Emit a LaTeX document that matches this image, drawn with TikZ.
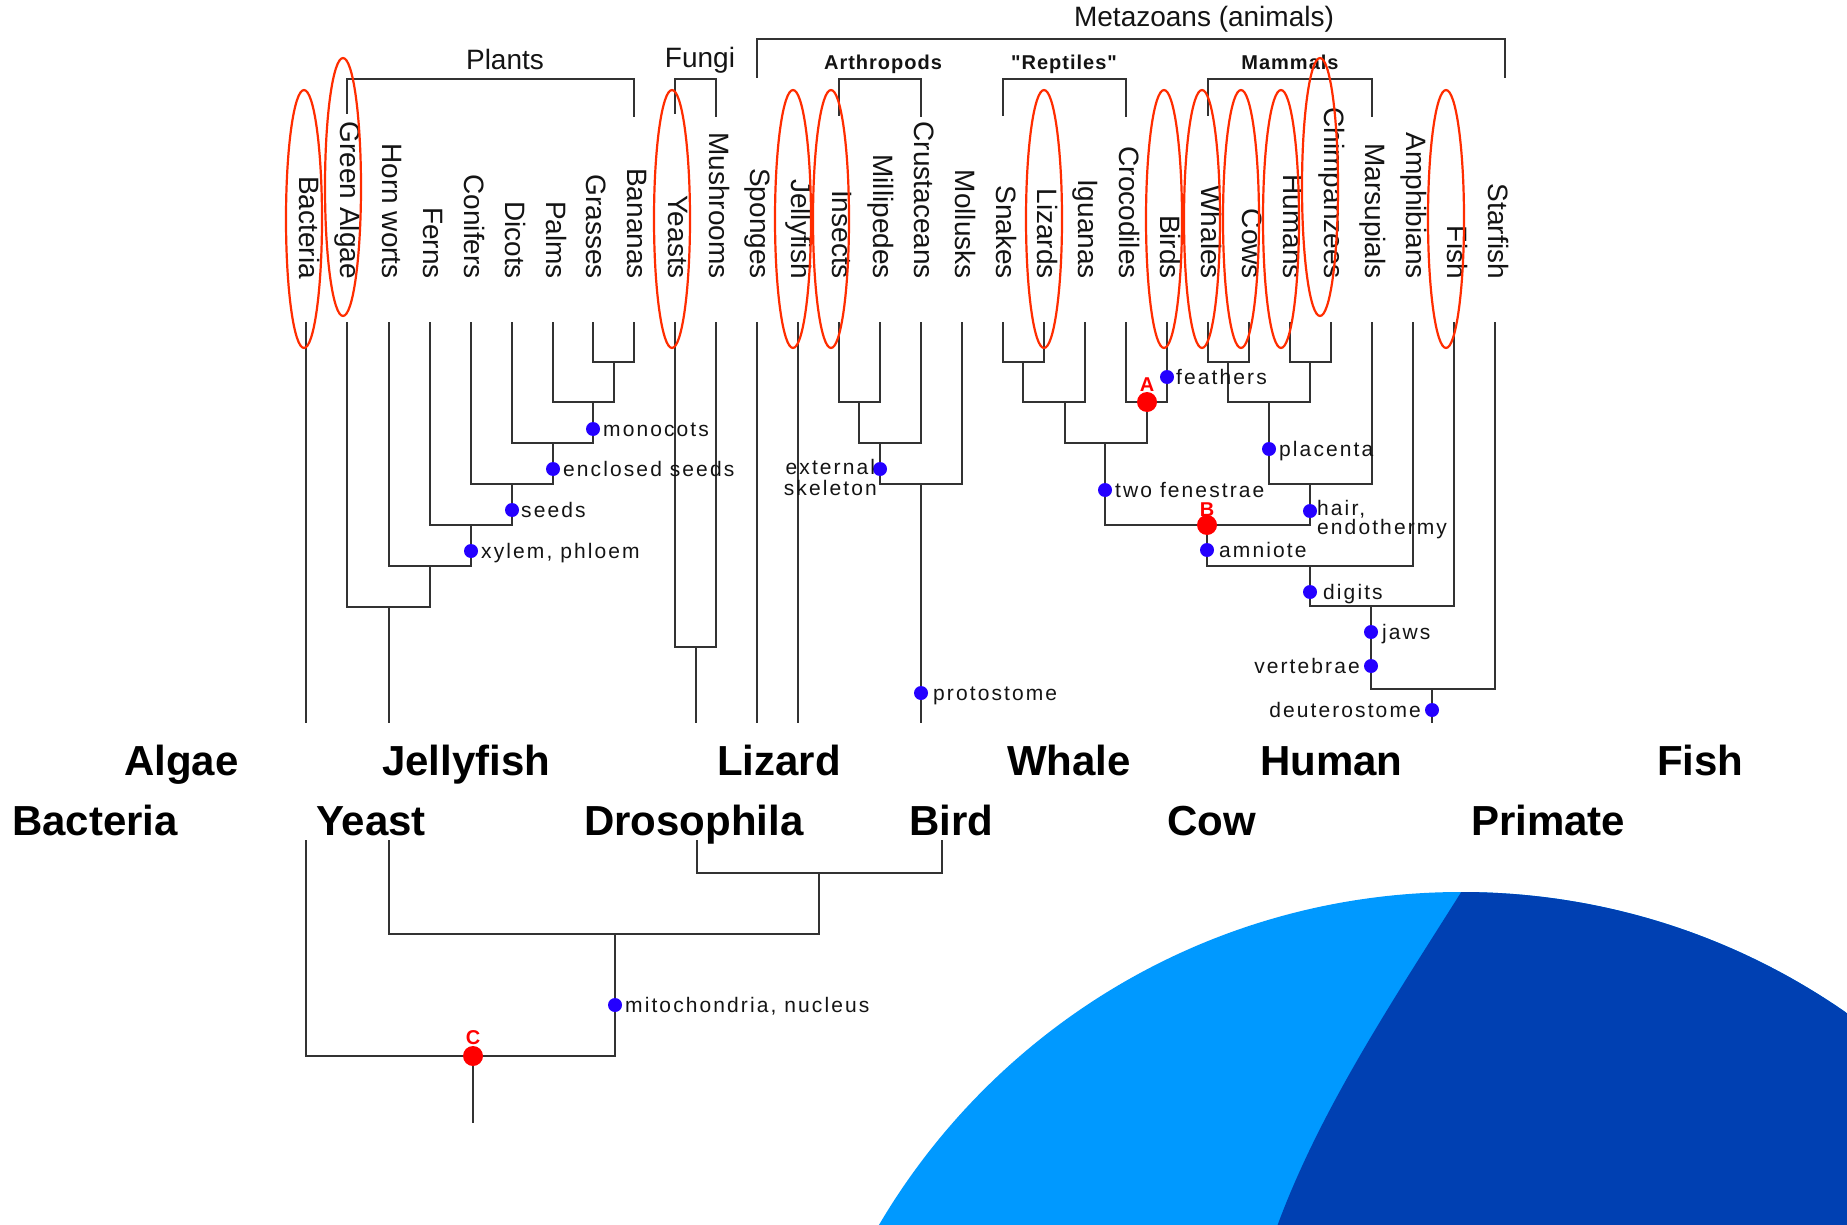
\documentclass[tikz,border=0pt]{standalone}
\usepackage{fontspec}
\setmainfont{Liberation Sans}
\newfontfamily\lblfont[LetterSpace=10]{Liberation Sans}
\newfontfamily\grpfont[LetterSpace=5]{Liberation Sans}
\usetikzlibrary{shapes.geometric}
\definecolor{linegray}{RGB}{50,50,50}
\definecolor{txtgray}{RGB}{20,20,20}
\definecolor{ringred}{RGB}{255,45,0}
\definecolor{dotblue}{RGB}{36,0,255}
\definecolor{dotred}{RGB}{255,0,0}
\definecolor{lightblue}{RGB}{0,153,255}
\definecolor{darkblue}{RGB}{0,64,178}
\begin{document}
\begin{tikzpicture}[x=1pt,y=-1pt,
  branch/.style={draw=linegray,line width=2.7pt},
  leaf/.style={rotate=-90,anchor=base east,inner sep=0pt,text=txtgray,font=\fontsize{28}{30}\selectfont},
  ring/.style={draw=ringred,line width=2.2pt,ellipse,minimum width=36pt,minimum height=258pt,inner sep=0pt},
  bdot/.style={circle,fill=dotblue,minimum size=14pt,inner sep=0pt},
  rdot/.style={circle,fill=dotred,minimum size=20pt,inner sep=0pt},
  lbl/.style={font=\lblfont\fontsize{21}{21}\selectfont,inner sep=0pt,text=txtgray},
  grp/.style={font=\fontsize{28}{30}\selectfont,inner sep=0pt,text=txtgray,anchor=base},
  subgrp/.style={font=\grpfont\bfseries\fontsize{20}{22}\selectfont,inner sep=0pt,text=txtgray,anchor=base},
  redlbl/.style={font=\bfseries\fontsize{20}{20}\selectfont,text=dotred,inner sep=0pt,anchor=base},
  big/.style={font=\fontsize{42}{44}\selectfont\bfseries,anchor=base west,inner sep=0pt,text=black}]
\useasboundingbox (0,0) rectangle (1847,1225);
\fill[white] (0,0) rectangle (1847,1225);

% blue shapes
\begin{scope}
  \clip (0,0) rectangle (1847,1225);
  \fill[lightblue] (1461,1567) circle[radius=675];
  \begin{scope}
    \clip (1461,1567) circle[radius=675];
    \fill[darkblue] (1470,878) .. controls (1400,990) and (1318,1110) .. (1274,1235) -- (1900,1235) -- (1900,878) -- cycle;
  \end{scope}
\end{scope}

% leaves
\foreach \nm/\xx/\txt in {Bac/306/Bacteria,GA/347/Green Algae,Hor/389/Horn worts,Fer/430/Ferns,Con/471/Conifers,Dic/512/Dicots,Pal/553/Palms,Gr/593/Grasses,Ban/634/Bananas,Yea/675/Yeasts,Mus/716/Mushrooms,Spo/757/Sponges,Jel/798/Jellyfish,Ins/839/Insects,Mil/880/Millipedes,Cru/921/Crustaceans,Mol/962/Mollusks,Sna/1003/Snakes,Liz/1044/Lizards,Igu/1085/Iguanas,Cro/1126/Crocodiles,Bir/1167/Birds,Wha/1208/Whales,Cow/1249/Cows,Hum/1290/Humans,Chi/1331/Chimpanzees,Mar/1372/Marsupials,Amp/1413/Amphibians,Fis/1454/Fish,Sta/1495/Starfish}{
  \node[leaf] (t\nm) at (\xx-7,279) {\txt};
  \coordinate (L\nm) at (\xx,322);
}

% junctions
\coordinate (J1) at (614,362);
\coordinate (J2) at (593,402);
\coordinate (J3) at (553,443);
\coordinate (J4) at (512,484);
\coordinate (J5) at (471,525);
\coordinate (J6) at (430,566);
\coordinate (J7) at (389,607);
\coordinate (JF) at (696,647);
\coordinate (JA1) at (859,402);
\coordinate (JA2) at (880,443);
\coordinate (JA3) at (921,484);
\coordinate (JR1) at (1023,362);
\coordinate (JR2) at (1065,402);
\coordinate (JAa) at (1147,402);
\coordinate (JR3) at (1105,443);
\coordinate (JM1) at (1228,362);
\coordinate (JM2) at (1310,362);
\coordinate (JM3) at (1269,402);
\coordinate (JM4) at (1310,484);
\coordinate (JBb) at (1207,525);
\coordinate (JAm) at (1310,566);
\coordinate (JD) at (1371,606);
\coordinate (JDe) at (1432,689);
% ends
\coordinate (eBac) at (306,723);
\coordinate (ePl) at (389,723);
\coordinate (eFun) at (696,723);
\coordinate (eSpo) at (757,723);
\coordinate (eJel) at (798,723);
\coordinate (ePro) at (921,723);
\coordinate (eDe) at (1432,723);

\draw[branch] (LGr) |- (J1) -| (LBan);
\draw[branch] (J1) |- (J2) -| (LPal);
\draw[branch] (J2) |- (J3) -| (LDic);
\draw[branch] (J3) |- (J4) -| (LCon);
\draw[branch] (J4) |- (J5) -| (LFer);
\draw[branch] (J5) |- (J6) -| (LHor);
\draw[branch] (J6) |- (J7) -| (LGA);
\draw[branch] (J7) -- (ePl);
\draw[branch] (LYea) |- (JF) -| (LMus);
\draw[branch] (JF) -- (eFun);
\draw[branch] (LBac) -- (eBac);
\draw[branch] (LSpo) -- (eSpo);
\draw[branch] (LJel) -- (eJel);
\draw[branch] (LIns) |- (JA1) -| (LMil);
\draw[branch] (JA1) |- (JA2) -| (LCru);
\draw[branch] (JA2) |- (JA3) -| (LMol);
\draw[branch] (JA3) -- (ePro);
\draw[branch] (LSna) |- (JR1) -| (LLiz);
\draw[branch] (JR1) |- (JR2) -| (LIgu);
\draw[branch] (LCro) |- (JAa) -| (LBir);
\draw[branch] (JR2) |- (JR3) -| (JAa);
\draw[branch] (LWha) |- (JM1) -| (LCow);
\draw[branch] (LHum) |- (JM2) -| (LChi);
\draw[branch] (JM1) |- (JM3) -| (JM2);
\draw[branch] (JM3) |- (JM4) -| (LMar);
\draw[branch] (JR3) |- (JBb) -| (JM4);
\draw[branch] (JBb) |- (JAm) -| (LAmp);
\draw[branch] (JAm) |- (JD) -| (LFis);
\draw[branch] (JD) |- (JDe) -| (LSta);
\draw[branch] (JDe) -- (eDe);

% brackets
\coordinate (kGA) at (347,114); \coordinate (kBan) at (634,117); \coordinate (kPl) at (490,79);
\coordinate (kYea) at (675,114); \coordinate (kMus) at (716,117); \coordinate (kFu) at (696,79);
\coordinate (kSpo) at (757,78); \coordinate (kSta) at (1505,78); \coordinate (kMe) at (1130,39);
\coordinate (kIns) at (839,116); \coordinate (kCru) at (921,117); \coordinate (kAr) at (880,79);
\coordinate (kSna) at (1003,116); \coordinate (kCro) at (1126,117); \coordinate (kRe) at (1064,79);
\coordinate (kWha) at (1208,116); \coordinate (kMar) at (1372,117); \coordinate (kMa) at (1290,79);
\draw[branch] (kGA) |- (kPl) -| (kBan);
\draw[branch] (kYea) |- (kFu) -| (kMus);
\draw[branch] (kSpo) |- (kMe) -| (kSta);
\draw[branch] (kIns) |- (kAr) -| (kCru);
\draw[branch] (kSna) |- (kRe) -| (kCro);
\draw[branch] (kWha) |- (kMa) -| (kMar);

\node[grp] (gPl) at (505,70) {Plants};
\node[grp] (gFu) at (700,68) {Fungi};
\node[grp] (gMe) at (1204,27) {Metazoans (animals)};
\node[subgrp] (gAr) at (883,70) {Arthropods};
\node[subgrp] (gRe) at (1064,70) {"Reptiles"};
\node[subgrp] (gMa) at (1290,70) {Mammals};

% bottom tree
\coordinate (bBac) at (306,840);
\coordinate (bYea) at (389,840);
\coordinate (bDro) at (697,840);
\coordinate (bBir) at (942,840);
\coordinate (JB1) at (819,873);
\coordinate (JB2) at (615,934);
\coordinate (JC) at (473,1056);
\coordinate (root) at (473,1123);
\draw[branch] (bDro) |- (JB1) -| (bBir);
\draw[branch] (bYea) |- (JB2) -| (JB1);
\draw[branch] (bBac) |- (JC) -| (JB2);
\draw[branch] (JC) -- (root);

% red rings
\node[ring] (rBac) at (304,219) {};
\node[ring] (rGA) at (343,187) {};
\node[ring] (rYea) at (672,219) {};
\node[ring] (rJel) at (793,219) {};
\node[ring] (rIns) at (831,219) {};
\node[ring] (rLiz) at (1044,219) {};
\node[ring] (rBir) at (1164,219) {};
\node[ring] (rWha) at (1202,219) {};
\node[ring] (rCow) at (1241,219) {};
\node[ring] (rHum) at (1281,219) {};
\node[ring] (rChi) at (1320,187) {};
\node[ring] (rFis) at (1446,219) {};

% dots
\node[bdot] (dMono) at (593,429) {};
\node[bdot] (dEncl) at (553,469) {};
\node[bdot] (dSeed) at (512,510) {};
\node[bdot] (dXyl) at (471,551) {};
\node[bdot] (dExt) at (880,469) {};
\node[bdot] (dPro) at (921,693) {};
\node[bdot] (dFea) at (1167,377) {};
\node[bdot] (dTwo) at (1105,490) {};
\node[bdot] (dPla) at (1269,449) {};
\node[bdot] (dHair) at (1310,511) {};
\node[bdot] (dAmn) at (1207,550) {};
\node[bdot] (dDig) at (1310,592) {};
\node[bdot] (dJaw) at (1371,632) {};
\node[bdot] (dVer) at (1371,666) {};
\node[bdot] (dDeu) at (1432,710) {};
\node[bdot] (dMit) at (615,1005) {};
\node[rdot] (dA) at (1147,402) {};
\node[rdot] (dB) at (1207,525) {};
\node[rdot] (dC) at (473,1056) {};
\node[redlbl] (lA) at (1147,391) {A};
\node[redlbl] (lB) at (1207,516) {B};
\node[redlbl] (lC) at (473,1044) {C};

% labels
\node[lbl,anchor=base west] (tMono) at (603,436) {monocots};
\node[lbl,anchor=base west] (tEncl) at (563,476) {enclosed seeds};
\node[lbl,anchor=base west] (tSeed) at (521,517) {seeds};
\node[lbl,anchor=base west] (tXyl) at (481,558) {xylem, phloem};
\node[lbl,anchor=north east,align=center,font=\lblfont\fontsize{21}{21}\selectfont] (tExt) at (877,459) {external\\skeleton};
\node[lbl,anchor=base west] (tPro) at (933,700) {protostome};
\node[lbl,anchor=base west] (tFea) at (1176,384) {feathers};
\node[lbl,anchor=base west] (tTwo) at (1115,497) {two fenestrae};
\node[lbl,anchor=base west] (tPla) at (1279,456) {placenta};
\node[lbl,anchor=north west,align=left,font=\lblfont\fontsize{21}{17}\selectfont] (tHair) at (1317,500) {hair,\\endothermy};
\node[lbl,anchor=base west] (tAmn) at (1219,557) {amniote};
\node[lbl,anchor=base west] (tDig) at (1323,599) {digits};
\node[lbl,anchor=base west] (tJaw) at (1382,639) {jaws};
\node[lbl,anchor=base east] (tVer) at (1360,673) {vertebrae};
\node[lbl,anchor=base east] (tDeu) at (1421,717) {deuterostome};
\node[lbl,anchor=base west] (tMit) at (625,1012) {mitochondria, nucleus};

% big labels
\node[big] (bAlgae) at (124,775) {Algae};
\node[big] (bJelly) at (382,775) {Jellyfish};
\node[big] (bLizard) at (717,775) {Lizard};
\node[big] (bWhale) at (1007,775) {Whale};
\node[big] (bHuman) at (1260,775) {Human};
\node[big] (bFish) at (1657,775) {Fish};
\node[big] (bBacteria) at (12,835) {Bacteria};
\node[big] (bYeast) at (316,835) {Yeast};
\node[big] (bDros) at (584,835) {Drosophila};
\node[big] (bBird) at (909,835) {Bird};
\node[big] (bCow) at (1167,835) {Cow};
\node[big] (bPrimate) at (1471,835) {Primate};
\end{tikzpicture}
\end{document}
